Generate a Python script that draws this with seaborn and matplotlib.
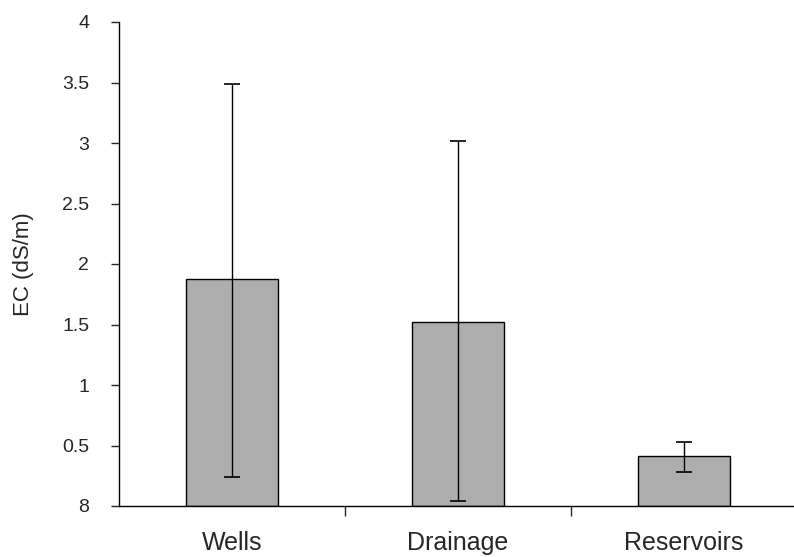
import matplotlib
matplotlib.use("Agg")
import matplotlib.pyplot as plt
import seaborn as sns
import numpy as np
import pandas as pd

categories = ["Wells", "Drainage", "Reservoirs"]
means = [1.88, 1.52, 0.41]
err_upper = [3.49, 3.02, 0.53]
err_lower = [0.24, 0.04, 0.28]
ytick_values = [0, 0.5, 1, 1.5, 2, 2.5, 3, 3.5, 4]
ytick_labels = ["8", "0.5", "1", "1.5", "2", "2.5", "3", "3.5", "4"]

sns.set_theme(style="white")
plt.rcParams['font.family'] = ['Liberation Sans', 'DejaVu Sans']

df = pd.DataFrame({"site": categories, "ec": means})

fig = plt.figure(figsize=(7.94, 5.57), dpi=100)
ax = fig.add_axes([119/794, 51/557, 678/794, 484/557])

sns.barplot(data=df, x="site", y="ec", color="#adadad", edgecolor="black",
            linewidth=1.0, width=0.41, errorbar=None, ax=ax, saturation=1)

x = np.arange(len(categories))
m = np.array(means)
yerr = np.vstack([m - np.array(err_lower), np.array(err_upper) - m])
ax.errorbar(x, m, yerr=yerr, fmt="none", ecolor="black", elinewidth=1.0,
            capsize=6, capthick=1.2)

ax.set_xlim(-0.5, 2.5)
ax.set_ylim(0, 4)
ax.set_yticks(ytick_values)
ax.set_yticklabels(ytick_labels, fontsize=14)
ax.set_xticks(x)
ax.set_xticklabels(categories, fontsize=18)
ax.set_xticks([0.5, 1.5], minor=True)
ax.tick_params(axis="x", which="major", length=0, pad=18)
ax.tick_params(axis="x", which="minor", length=7, width=1, direction="out", bottom=True)
ax.tick_params(axis="y", length=5.5, width=1, direction="out", left=True, pad=16)
ax.set_xlabel("")
ax.set_ylabel("EC (dS/m)", fontsize=16, labelpad=20)

for s in ["top", "right"]:
    ax.spines[s].set_visible(False)
for s in ["left", "bottom"]:
    ax.spines[s].set_color("black")
    ax.spines[s].set_linewidth(1.0)

fig.savefig("out.png", dpi=100)
